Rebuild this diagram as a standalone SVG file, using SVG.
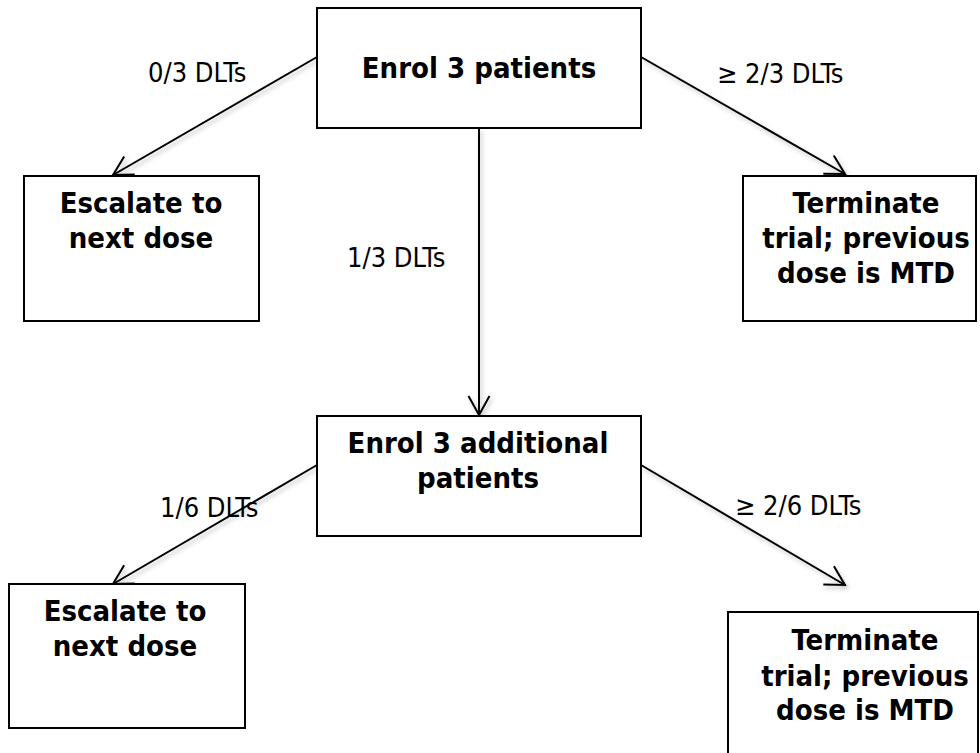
<svg xmlns="http://www.w3.org/2000/svg" width="980" height="753" viewBox="0 0 980 753">
<style>
.box{fill:#fff;stroke:#000;stroke-width:2}
.nt{font-family:"DejaVu Sans Condensed","DejaVu Sans",sans-serif;font-weight:bold;font-size:29px;text-anchor:middle;fill:#000}
.lb{font-family:"DejaVu Sans Condensed","DejaVu Sans",sans-serif;font-size:27px;fill:#000}
.cn{fill:none;stroke:#000;stroke-width:2;marker-end:url(#ah)}
</style>
<defs>
<marker id="ah" viewBox="0 0 24 24" refX="21" refY="12" markerWidth="24" markerHeight="24" markerUnits="userSpaceOnUse" orient="auto">
<path d="M2,1.5 L21,12 L2,22.5" fill="none" stroke="#000" stroke-width="2"/>
</marker>
<filter id="sh" filterUnits="userSpaceOnUse" x="0" y="0" width="980" height="753">
<feDropShadow dx="2" dy="3" stdDeviation="2" flood-color="#000" flood-opacity="0.25"/>
</filter>
</defs>
<rect width="980" height="753" fill="#fff"/>
<g id="connectors" filter="url(#sh)">
<line class="cn" x1="317" y1="57" x2="113" y2="175"/>
<line class="cn" x1="641" y1="57" x2="845" y2="174"/>
<line class="cn" x1="479" y1="128" x2="479" y2="415"/>
<line class="cn" x1="317" y1="465" x2="113" y2="584"/>
<line class="cn" x1="641" y1="465" x2="845" y2="585"/>
</g>
<g id="labels">
<text class="lb" x="148" y="82">0/3 DLTs</text>
<text class="lb" x="717" y="83">≥ 2/3 DLTs</text>
<text class="lb" x="347" y="267">1/3 DLTs</text>
<text class="lb" x="160" y="517">1/6 DLTs</text>
<text class="lb" x="735" y="515">≥ 2/6 DLTs</text>
</g>
<g id="enrol3">
<rect class="box" x="317" y="8" width="324" height="120"/>
<text class="nt" x="479" y="78">Enrol 3 patients</text>
</g>
<g id="escalate1">
<rect class="box" x="24" y="176" width="235" height="145"/>
<text class="nt" x="141" y="213">Escalate to</text>
<text class="nt" x="141" y="248">next dose</text>
</g>
<g id="terminate1">
<rect class="box" x="743" y="176" width="233" height="145"/>
<text class="nt" x="866" y="213">Terminate</text>
<text class="nt" x="866" y="248">trial; previous</text>
<text class="nt" x="866" y="283">dose is MTD</text>
</g>
<g id="enrol3add">
<rect class="box" x="317" y="416" width="324" height="120"/>
<text class="nt" x="478" y="453">Enrol 3 additional</text>
<text class="nt" x="478" y="488">patients</text>
</g>
<g id="escalate2">
<rect class="box" x="9" y="584" width="236" height="144"/>
<text class="nt" x="125" y="621">Escalate to</text>
<text class="nt" x="125" y="656">next dose</text>
</g>
<g id="terminate2">
<rect class="box" x="728" y="612" width="250" height="150"/>
<text class="nt" x="865" y="650">Terminate</text>
<text class="nt" x="865" y="686">trial; previous</text>
<text class="nt" x="865" y="720">dose is MTD</text>
</g>
</svg>
